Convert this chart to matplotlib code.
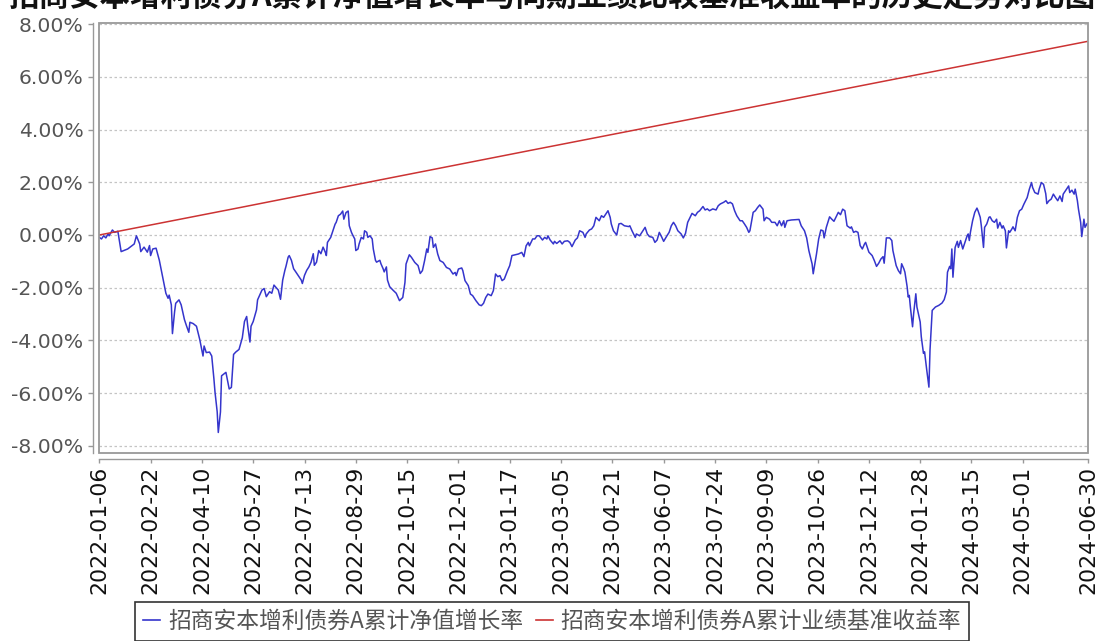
import matplotlib
matplotlib.use('Agg')
import matplotlib.pyplot as plt
from matplotlib.patches import Rectangle
from matplotlib.lines import Line2D
from matplotlib.ticker import FuncFormatter
import numpy as np

# ---------------- data ----------------
title = '招商安本增利债券A累计净值增长率与同期业绩比较基准收益率的历史走势对比图'
series_names = ['招商安本增利债券A累计净值增长率', '招商安本增利债券A累计业绩基准收益率']
start_date = '2022-01-06'
end_date = '2024-06-30'
x_tick_labels = ['2022-01-06', '2022-02-22', '2022-04-10', '2022-05-27', '2022-07-13',
                 '2022-08-29', '2022-10-15', '2022-12-01', '2023-01-17', '2023-03-05',
                 '2023-04-21', '2023-06-07', '2023-07-24', '2023-09-09', '2023-10-26',
                 '2023-12-12', '2024-01-28', '2024-03-15', '2024-05-01', '2024-06-30']
y_ticks = [-8, -6, -4, -2, 0, 2, 4, 6, 8]

# fund cumulative NAV growth (%), day offsets from start_date
nav_days = [
    0, 2, 4, 6, 8, 9, 12, 14, 17, 20,
    26, 32, 34, 37, 38, 41, 44, 46, 47, 49,
    52, 55, 58, 61, 63, 64, 66, 67, 69, 70,
    73, 75, 78, 80, 82, 83, 86, 89, 92, 95,
    96, 98, 101, 103, 105, 106, 108, 109, 111, 112,
    116, 119, 121, 123, 125, 128, 131, 133, 135, 136,
    138, 139, 141, 144, 145, 147, 149, 151, 153, 156,
    158, 160, 164, 166, 168, 170, 171, 173, 174, 176,
    178, 180, 183, 185, 186, 188, 190, 192, 194, 196,
    197, 199, 201, 203, 205, 207, 208, 209, 212, 216,
    217, 219, 221, 223, 224, 226, 228, 229, 231, 232,
    234, 235, 237, 238, 240, 242, 243, 245, 246, 248,
    250, 251, 253, 254, 257, 258, 260, 261, 263, 264,
    266, 269, 272,
    275, 278, 280, 281, 284, 286, 289, 292, 294, 296,
    298, 300, 301, 303, 305, 306, 308, 310, 312, 315,
    318, 321, 324, 326, 327, 329, 332, 333, 335, 338,
    340, 342, 345, 348, 350, 352, 354, 356, 359, 361,
    363, 365, 367, 369, 371, 374, 376, 378, 381, 384,
    387, 389, 391, 393, 394, 397, 399, 401, 403, 406,
    408, 410, 411, 413, 416, 417, 419, 422, 424, 426,
    429, 431, 433, 436, 438, 440, 443, 445, 446, 449,
    451, 453, 455, 458, 460, 462, 465, 466, 468, 469,
    471, 474, 476, 478, 481, 485, 486, 488, 491, 492,
    495, 497, 500, 502, 504, 507, 509, 511, 513, 515,
    517, 520, 522, 524, 526, 528, 530, 533, 535, 537,
    539, 542, 543, 546, 548, 550, 553, 555, 557, 559,
    562, 565, 567, 569, 572, 574, 576, 578, 580, 582,
    584, 587, 589, 591, 593, 595,
    596, 599, 601, 603, 605, 608, 609, 611, 614, 616,
    619, 621, 623, 625, 627, 628, 630, 634, 637, 641,
    643, 646, 648, 650, 653, 654, 657, 659, 661, 663,
    664, 666, 669, 671, 673, 675, 677, 679, 681, 683,
    685, 688, 689, 691, 693, 695, 697, 699, 701, 702,
    704, 705, 708, 710, 712, 714, 716, 718, 719, 721,
    724, 726, 727, 729, 730, 732, 734, 735, 737, 738,
    740, 741, 742, 743, 745, 746, 748, 749, 752, 753,
    755, 756, 758, 760, 761, 763, 766, 769, 772, 774,
    776, 777, 779, 780, 781, 782, 784, 786, 787, 789,
    791, 793, 795, 796, 797, 798, 800, 802, 804, 805,
    807, 808, 810, 811, 813, 815, 816, 818, 820, 822,
    823, 825, 827, 828, 830, 831, 833, 834, 836, 837,
    839, 841, 843, 845, 847, 850, 852, 854, 855, 857,
    860, 861, 863, 865, 867, 868, 870, 872, 874, 876,
    878, 880, 882, 883, 886, 888, 889, 891, 893, 894,
    896, 897, 899, 900, 902, 903, 905, 906,
]
nav_pct = [
    -0.09, -0.15, -0.03, -0.11, 0.04, -0.03, 0.19, 0.10, 0.14, -0.63,
    -0.53, -0.34, -0.03, -0.34, -0.63, -0.46, -0.65, -0.40, -0.78, -0.53,
    -0.50, -0.96, -1.59, -2.21, -2.40, -2.28, -2.65, -3.74, -2.90, -2.59,
    -2.46, -2.65, -3.21, -3.46, -3.69, -3.31, -3.36, -3.46, -3.96, -4.59,
    -4.21, -4.46, -4.44, -4.59, -5.46, -5.96, -6.71, -7.49, -6.71, -5.34,
    -5.21, -5.84, -5.78, -4.53, -4.44, -4.34, -3.90, -3.28, -3.09, -3.46,
    -4.06, -3.46, -3.28, -2.84, -2.46, -2.28, -2.09, -2.03, -2.34, -2.15,
    -2.21, -1.90, -2.09, -2.44, -1.71, -1.34, -1.19, -0.84, -0.78, -0.96,
    -1.28, -1.40, -1.59, -1.71, -1.84, -1.53, -1.34, -1.21, -1.03, -0.71,
    -1.15, -1.03, -0.59, -0.71, -0.46, -0.65, -0.78, -0.28, -0.09, 0.41,
    0.48, 0.73, 0.79, 0.91, 0.60, 0.85, 0.91, 0.35, 0.10, 0.01,
    -0.15, -0.59, -0.53, -0.34, -0.09, -0.15, 0.16, 0.10, -0.09, -0.03,
    -0.15, -0.53, -0.96, -1.03, -0.96, -1.09, -1.28, -1.40, -1.21, -1.71,
    -1.96, -2.09, -2.21,
    -2.49, -2.37, -1.80, -1.10, -0.75, -0.85, -1.04, -1.16, -1.46, -1.35,
    -0.97, -0.53, -0.66, -0.06, -0.11, -0.47, -0.34, -0.72, -0.97, -1.04,
    -1.23, -1.29, -1.48, -1.42, -1.54, -1.29, -1.25, -1.35, -1.73, -1.92,
    -2.24, -2.30, -2.49, -2.65, -2.68, -2.59, -2.37, -2.24, -2.30, -2.11,
    -1.48, -1.58, -1.54, -1.73, -1.67, -1.35, -1.16, -0.78, -0.75, -0.72,
    -0.66, -0.82, -0.41, -0.28, -0.41, -0.15, -0.15, -0.03, -0.03, -0.19,
    -0.09, -0.15, -0.03, -0.19, -0.34, -0.24, -0.32, -0.22, -0.34, -0.24,
    -0.22, -0.28, -0.44, -0.19, -0.11, 0.16, 0.10, -0.09, 0.04, 0.19,
    0.23, 0.35, 0.67, 0.54, 0.73, 0.67, 0.86, 0.92, 0.67, 0.42,
    0.16, 0.00, 0.42, 0.44, 0.35, 0.32, 0.35, 0.16, -0.09, 0.04,
    -0.03, 0.10, 0.29, 0.04, -0.06, -0.09, -0.28, -0.19, 0.10, -0.06,
    -0.24, -0.03, 0.10, 0.35, 0.48, 0.35, 0.16, 0.04, -0.11, 0.06,
    0.48, 0.73, 0.82, 0.73, 0.86, 0.92, 1.08, 0.95, 0.99, 0.92,
    0.99, 0.95, 1.11, 1.18, 1.24, 1.30, 1.20, 1.24, 1.18, 0.92,
    0.73, 0.54, 0.54, 0.42, 0.29, 0.10,
    0.16, 0.86, 0.92, 1.04, 1.14, 0.98, 0.54, 0.67, 0.60, 0.48,
    0.48, 0.35, 0.54, 0.35, 0.54, 0.29, 0.54, 0.57, 0.58, 0.59,
    0.35, 0.16, -0.11, -0.59, -1.10, -1.47, -0.72, -0.15, 0.19, 0.16,
    -0.11, 0.29, 0.69, 0.60, 0.52, 0.69, 0.86, 0.77, 0.98, 0.92,
    0.35, 0.26, 0.31, 0.10, 0.14, 0.10, -0.40, -0.53, -0.34, -0.28,
    -0.53, -0.65, -0.78, -0.97, -1.19, -1.07, -0.91, -0.82, -1.07, -0.11,
    -0.11, -0.21, -0.59, -0.97, -1.16, -1.35, -1.47, -1.09, -1.28, -1.41,
    -1.95, -2.35, -2.29, -2.73, -3.48, -2.98, -2.23, -2.73, -3.30, -3.86,
    -4.49, -4.43, -5.12, -5.77, -4.36, -2.86, -2.73, -2.67, -2.58, -2.45,
    -2.16, -1.41, -1.19, -1.28, -0.53, -1.60, -0.47, -0.24, -0.47, -0.21,
    -0.53, -0.28, -0.03, 0.04, -0.21, 0.10, 0.54, 0.86, 1.02, 0.92,
    0.67, 0.35, -0.47, 0.29, 0.42, 0.67, 0.69, 0.54, 0.48, 0.60,
    0.26, 0.48, 0.26, 0.35, 0.16, -0.49, 0.16, 0.10, 0.23, 0.31,
    0.16, 0.67, 0.92, 0.98, 1.17, 1.42, 1.74, 1.99, 1.80, 1.61,
    1.55, 1.74, 1.99, 1.92, 1.57, 1.19, 1.30, 1.36, 1.55, 1.42,
    1.30, 1.48, 1.27, 1.55, 1.74, 1.86, 1.61, 1.70, 1.55, 1.74,
    1.30, 0.98, 0.48, -0.06, 0.60, 0.29, 0.44, 0.44,
]

# benchmark cumulative return (%)
bench_days = [0, 130, 256, 400, 550, 700, 906]
bench_pct = [0.00, 1.05, 2.08, 3.25, 4.46, 5.68, 7.35]

# ---------------- drawing ----------------
W, H = 1099, 641
fig = plt.figure(figsize=(W / 100, H / 100), dpi=100)
fig.patch.set_facecolor('white')

L, R, T, B = 99.3, 1088.3, 22.5, 453.3
ax = fig.add_axes([L / W, 1 - B / H, (R - L) / W, (B - T) / H])

t0 = np.datetime64(start_date)
span_days = int((np.datetime64(end_date) - t0).astype(int))
tick_days = [int((np.datetime64(s) - t0).astype(int)) for s in x_tick_labels]

blue = '#3535cc'
red = '#cc3333'
ax.plot(nav_days, nav_pct, color=blue, lw=1.1, zorder=3)
ax.plot(bench_days, bench_pct, color=red, lw=1.1, zorder=3)

ax.set_xlim(0, span_days)
ax.set_ylim(-8.28, 8.06)

ax.set_xticks(tick_days)
ax.set_xticklabels(x_tick_labels)
ax.set_yticks(y_ticks)
ax.yaxis.set_major_formatter(FuncFormatter(lambda v, p: '%.2f%%' % v))

ax.tick_params(axis='y', length=3.6, width=1, color='#999999', pad=3,
               labelsize=14.7, labelcolor='#555555')
ax.tick_params(axis='x', length=2.6, width=1, color='#999999', pad=2,
               labelsize=15.8, labelcolor='#111111', labelrotation=90)
for lab in ax.get_xticklabels() + ax.get_yticklabels():
    lab.set_family('DejaVu Sans')

ax.yaxis.grid(True, color='#c4c4c4', linestyle=(0, (2, 2)), lw=0.9)
ax.xaxis.grid(False)
ax.set_axisbelow(True)

for s in ['top', 'right']:
    ax.spines[s].set_visible(False)
ax.spines['left'].set_position(('outward', 4.7))
ax.spines['bottom'].set_position(('outward', 4.2))
for s in ['left', 'bottom']:
    ax.spines[s].set_color('#999999')
    ax.spines[s].set_linewidth(1.0)

ax.add_patch(Rectangle((0, 0), 1, 1, transform=ax.transAxes, fill=False,
                       edgecolor='#999999', lw=1.3, clip_on=False, zorder=4))

# title (partially cut at the top of the canvas)
fig.text(0.502, 1 - 5.5 / H, title, ha='center', va='baseline', fontsize=22,
         fontweight='bold', color='#111111', family=['Noto Sans CJK SC', 'DejaVu Sans'])

# legend
handles = [Line2D([], [], color=blue, lw=1.2), Line2D([], [], color=red, lw=1.2)]
leg = fig.legend(handles, series_names, loc='upper left',
                 bbox_to_anchor=(135 / W, 1 - 601.7 / H), ncol=2,
                 frameon=True, fancybox=False, framealpha=1, edgecolor='#333333',
                 prop={'family': ['Noto Sans CJK SC', 'DejaVu Sans'], 'size': 16.4},
                 labelcolor='#555555', handlelength=0.75, handletextpad=0.35,
                 columnspacing=0.55, borderpad=0.35, borderaxespad=0)
leg.get_frame().set_linewidth(1.2)

fig.savefig('out.png', dpi=100)
